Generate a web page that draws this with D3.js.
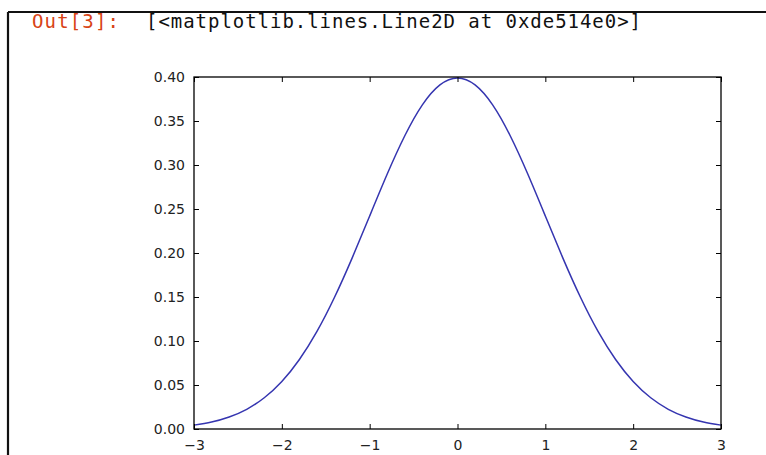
<!DOCTYPE html>
<html>
<head>
<meta charset="utf-8">
<script src="https://cdn.jsdelivr.net/npm/d3@7"></script>
<style>
  html, body { margin: 0; padding: 0; background: #fff; }
  svg { display: block; }
</style>
</head>
<body>
<svg id="chart" width="766" height="455"></svg>
<script>
// ---- Data ----
const promptLabel = "Out[3]:";
const outputText = "[<matplotlib.lines.Line2D at 0xde514e0>]";
const xValues = [-3, -2.8, -2.6, -2.4, -2.2, -2, -1.8, -1.6, -1.4, -1.2, -1, -0.8, -0.6, -0.4, -0.2, 0,
                 0.2, 0.4, 0.6, 0.8, 1, 1.2, 1.4, 1.6, 1.8, 2, 2.2, 2.4, 2.6, 2.8, 3];
const yValues = [0.0044, 0.0079, 0.0136, 0.0224, 0.0355, 0.0540, 0.0790, 0.1109, 0.1497, 0.1942, 0.2420,
                 0.2897, 0.3332, 0.3683, 0.3910, 0.3989,
                 0.3910, 0.3683, 0.3332, 0.2897, 0.2420, 0.1942, 0.1497, 0.1109, 0.0790, 0.0540,
                 0.0355, 0.0224, 0.0136, 0.0079, 0.0044];
const xTicks = [-3, -2, -1, 0, 1, 2, 3];
const yTicks = [0.00, 0.05, 0.10, 0.15, 0.20, 0.25, 0.30, 0.35, 0.40];

const svg = d3.select("#chart");

// Notebook cell frame
svg.append("line").attr("x1", 8).attr("x2", 766).attr("y1", 12).attr("y2", 12)
  .attr("stroke", "#111").attr("stroke-width", 2.2);
svg.append("line").attr("x1", 8).attr("x2", 8).attr("y1", 12).attr("y2", 455)
  .attr("stroke", "#111").attr("stroke-width", 2.2);

// Header text
svg.append("text").attr("x", 32).attr("y", 28)
  .attr("font-family", "'DejaVu Sans Mono', monospace").attr("font-size", 19)
  .attr("textLength", 87).attr("lengthAdjust", "spacing")
  .attr("fill", "#D84315").text(promptLabel);
svg.append("text").attr("x", 146).attr("y", 28)
  .attr("font-family", "'DejaVu Sans Mono', monospace").attr("font-size", 19)
  .attr("textLength", 495).attr("lengthAdjust", "spacing")
  .attr("fill", "#111").text(outputText);

// Plot area
const pLeft = 194, pRight = 721, pTop = 77, pBottom = 429;
const x = d3.scaleLinear().domain([-3, 3]).range([pLeft, pRight]);
const y = d3.scaleLinear().domain([0, 0.40]).range([pBottom, pTop]);

const font = "'DejaVu Sans', sans-serif";
const tickLen = 5;

// Curve
const line = d3.line().x((d, i) => x(xValues[i])).y(d => y(d)).curve(d3.curveNatural);
svg.append("path").datum(yValues)
  .attr("d", line)
  .attr("fill", "none")
  .attr("stroke", "#3535b0")
  .attr("stroke-width", 1.5);

// Axes: inward ticks on all four sides
const axBottom = d3.axisBottom(x).tickValues(xTicks).tickSizeInner(-tickLen).tickSizeOuter(0)
  .tickPadding(tickLen + 6).tickFormat(d => d3.format("")(d).replace("-", "\u2212"));
const gB = svg.append("g").attr("transform", `translate(0,${pBottom})`).call(axBottom);
const axTop = d3.axisTop(x).tickValues(xTicks).tickSizeInner(-tickLen).tickSizeOuter(0).tickFormat("");
const gT = svg.append("g").attr("transform", `translate(0,${pTop})`).call(axTop);
const axLeft = d3.axisLeft(y).tickValues(yTicks).tickSizeInner(-tickLen).tickSizeOuter(0)
  .tickPadding(tickLen + 4).tickFormat(d3.format(".2f"));
const gL = svg.append("g").attr("transform", `translate(${pLeft},0)`).call(axLeft);
const axRight = d3.axisRight(y).tickValues(yTicks).tickSizeInner(-tickLen).tickSizeOuter(0).tickFormat("");
const gR = svg.append("g").attr("transform", `translate(${pRight},0)`).call(axRight);

[gB, gT, gL, gR].forEach(g => {
  g.select(".domain").remove();
  g.selectAll(".tick line").attr("stroke", "#000").attr("stroke-width", 1);
  g.selectAll(".tick text").attr("font-family", font).attr("font-size", 14).attr("fill", "#222");
});

// Frame (spines)
svg.append("rect").attr("x", pLeft).attr("y", pTop)
  .attr("width", pRight - pLeft).attr("height", pBottom - pTop)
  .attr("fill", "none").attr("stroke", "#000").attr("stroke-width", 1.3);
</script>
</body>
</html>
